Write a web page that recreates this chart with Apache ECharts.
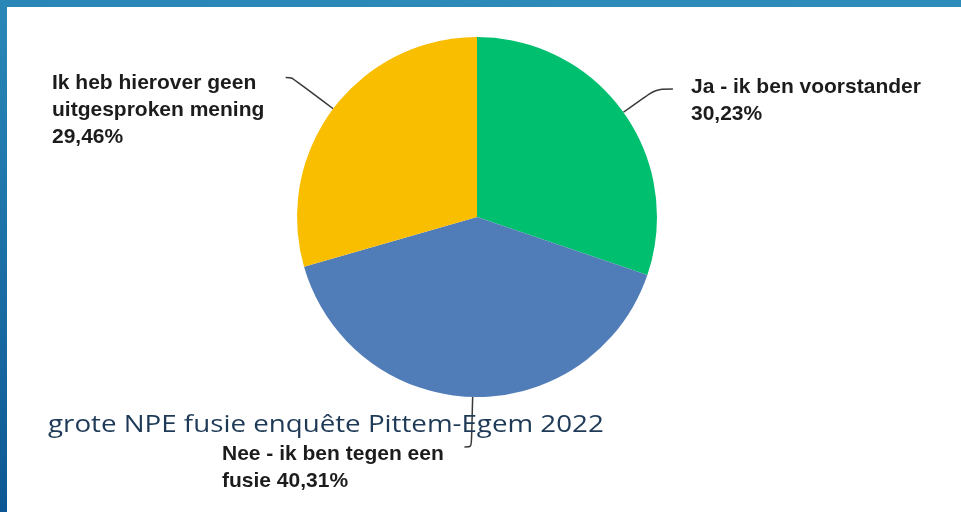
<!DOCTYPE html>
<html>
<head>
<meta charset="utf-8">
<script src="https://cdn.jsdelivr.net/npm/echarts@6/dist/echarts.min.js"></script>
<style>
  html, body { margin: 0; padding: 0; background: #ffffff; }
  #chart { width: 961px; height: 512px; }
</style>
</head>
<body>
<div id="chart"></div>
<script>
// Survey answers (percent of respondents)
const categories = [
  'Ja - ik ben voorstander',
  'Nee - ik ben tegen een fusie',
  'Ik heb hierover geen uitgesproken mening'
];
const shares = [30.23, 40.31, 29.46];
const sliceColors = ['#00bf6f', '#507cb7', '#f9be00'];
const titleText = 'grote NPE fusie enquête Pittem-Egem 2022';

// Where each wrapped label block sits (left/top of the text box)
const labelBoxes = [
  { x: 691, y: 74 },
  { x: 222, y: 441 },
  { x: 52, y: 70 }
];
// Leader line lengths per slice: [radial part, horizontal part]
const leaderLengths = [[40, 17], [50, 7], [52, 6]];

function formatPercent(v) {
  return v.toFixed(2).replace('.', ',') + '%';
}

const chart = echarts.init(document.getElementById('chart'), null, { renderer: 'canvas' });

const pieData = categories.map((name, i) => ({
  name: name,
  value: shares[i],
  itemStyle: { color: sliceColors[i] },
  labelLine: { length: leaderLengths[i][0], length2: leaderLengths[i][1] }
}));

chart.setOption({
  backgroundColor: '#ffffff',
  animation: false,
  graphic: [
    {
      type: 'rect', left: 0, top: 0, z: 10,
      shape: { width: 961, height: 7 },
      style: {
        fill: new echarts.graphic.LinearGradient(0, 0, 1, 0, [
          { offset: 0, color: '#2a86b6' },
          { offset: 1, color: '#2e8cba' }
        ])
      }
    },
    {
      type: 'rect', left: 0, top: 0, z: 10,
      shape: { width: 7, height: 512 },
      style: {
        fill: new echarts.graphic.LinearGradient(0, 0, 0, 1, [
          { offset: 0, color: '#2a88b8' },
          { offset: 1, color: '#0d5894' }
        ])
      }
    },
    {
      // caption, stretched horizontally to a wide geometric look
      type: 'text', x: 48, y: 413, z: 20,
      scaleX: 1.155,
      style: {
        text: titleText,
        fill: '#1e3a57',
        font: '400 24px "Open Sans", sans-serif'
      }
    }
  ],
  series: [{
    type: 'pie',
    center: [477, 217],
    radius: 180,
    startAngle: 90,
    clockwise: true,
    avoidLabelOverlap: false,
    data: pieData,
    label: {
      show: true,
      position: 'outside',
      width: 240,
      overflow: 'break',
      lineHeight: 27,
      fontFamily: '"Liberation Sans", Arial, sans-serif',
      fontWeight: 'bold',
      fontSize: 21,
      color: '#1c1c1c',
      formatter: p => p.name + ' ' + formatPercent(p.value)
    },
    labelLine: {
      show: true,
      smooth: 0.3,
      lineStyle: { color: '#3a3a3a', width: 1.5 }
    },
    labelLayout: function (params) {
      const box = labelBoxes[params.dataIndex];
      return {
        x: box.x,
        y: box.y,
        align: 'left',
        verticalAlign: 'top',
        labelLinePoints: params.labelLinePoints
      };
    },
    emphasis: { disabled: true }
  }]
});
</script>
</body>
</html>
